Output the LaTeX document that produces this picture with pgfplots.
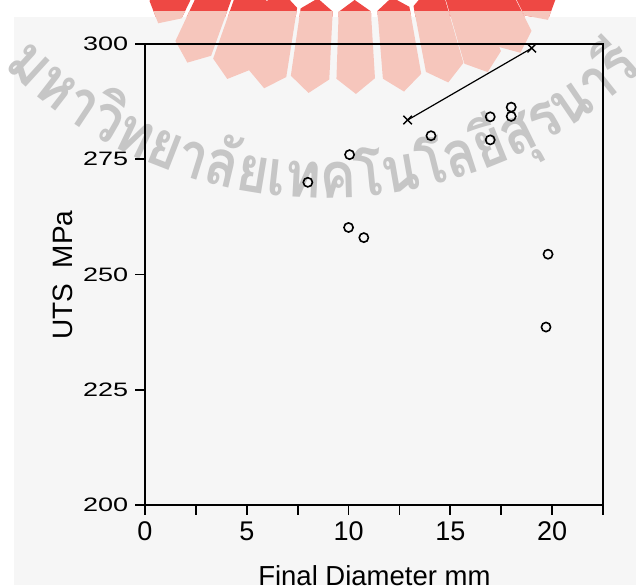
\documentclass[border=0pt]{standalone}
\usepackage{fontspec}
\setmainfont{Liberation Sans}
\newfontfamily\thaifont[Script=Thai, FakeStretch=0.85]{Loma}
\usepackage{graphicx}
\usepackage{pgfplots}
\pgfplotsset{compat=1.18}
\usetikzlibrary{decorations.text}
\definecolor{scan}{RGB}{246,246,246}
\definecolor{embred}{RGB}{238,72,68}
\definecolor{embpink}{RGB}{246,198,188}
\definecolor{wm}{RGB}{198,198,198}

\newcommand\emblem[1]{%
  \begin{scope}[shift={(350,-330)}]
    \foreach \p/\rt in {-28.5/402,-22.5/425,-16.7/427,-11.6/427,-5.6/425,0.8/424,7.3/425,13.4/424,18.9/425,24/419,29.5/402}{
      \pgfmathsetmacro{\a}{90-\p}
      \pgfmathsetmacro{\al}{\a+2.7}
      \pgfmathsetmacro{\ar}{\a-2.7}
      \pgfmathsetmacro{\rc}{\rt-15}
      \fill[#1] (\a:330) -- (\al:342) -- (\al:\rc) -- (\a:\rt) -- (\ar:\rc) -- (\ar:342) -- cycle;
    }
  \end{scope}}

\begin{document}
\begin{tikzpicture}
\begin{scope}[x=0.5pt,y=-0.5pt]
  \useasboundingbox (0,0) rectangle (636,585);
  \emblem{embred}
  \fill[scan] (14,17) rectangle (636,585);
  \begin{scope}
    \clip (14,12) rectangle (636,585);
    \emblem{embpink}
  \end{scope}
  % watermark text along an arc
  \path[decorate, decoration={text along path,
      text={|\thaifont\bfseries\fontsize{32}{32}\selectfont\color{wm}|มหาวิทยาลัยเทคโนโลยีสุรนารี},
      text align={left indent=22pt}}]
    (325,-260) ++(140:458) arc[start angle=140, end angle=15, radius=458];
\end{scope}

\begin{axis}[
  at={(72.5pt,-252.5pt)}, anchor=south west,
  scale only axis, width=229pt, height=230.5pt,
  xmin=0, xmax=22.5, ymin=200, ymax=300,
  xtick={0,5,10,15,20},
  minor xtick={2.5,7.5,12.5,17.5,22.5},
  ytick={200,225,250,275,300},
  tick align=outside, xtick pos=bottom, ytick pos=left,
  major tick length=4.9pt, minor tick length=4.9pt,
  axis line style={line width=0.9pt, black},
  every tick/.style={line width=0.9pt, black},
  /pgf/number format/assume math mode=true,
  tick label style={font=\fontsize{13.5}{13.5}\selectfont},
  yticklabel={\scalebox{1}[0.72]{\pgfmathprintnumber{\tick}}},
  clip=false,
]
\addplot[only marks, mark=o, mark size=2.3pt, mark options={line width=0.8pt, black}]
  coordinates {
  (8,270) (10.05,276) (10,260.2) (10.75,258) (14.05,280.1)
  (16.96,284.2) (16.96,279.2) (17.99,286.3) (17.99,284.3)
  (19.8,254.4) (19.7,238.6)
  };
\addplot[black, line width=0.6pt, mark=x, mark size=3pt, mark options={line width=0.7pt}]
  coordinates {(12.9,283.5) (19,299.1)};
\end{axis}

\begin{scope}[x=0.5pt,y=-0.5pt]
  \node[rotate=90, font=\fontsize{14}{14}\selectfont, inner sep=0pt] at (63,275) {UTS\ \ MPa};
  \node[anchor=base, font=\fontsize{13.75}{13.75}\selectfont, inner sep=0pt] at (374.4,585) {Final Diameter mm};
\end{scope}
\end{tikzpicture}
\end{document}
